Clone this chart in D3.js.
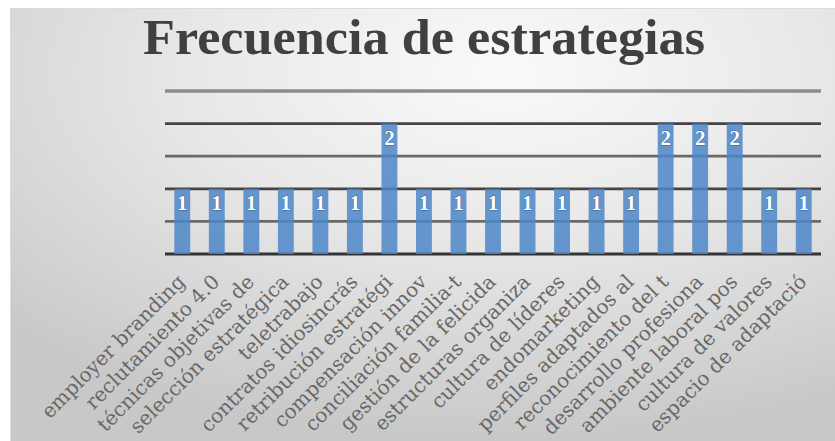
<!DOCTYPE html>
<html><head><meta charset="utf-8">
<script src="https://cdn.jsdelivr.net/npm/d3@7"></script>
<style>html,body{margin:0;padding:0;background:#fff;}svg{display:block;}</style>
</head><body>
<svg id="chart" width="835" height="441"></svg>
<script>
const title = "Frecuencia de estrategias";
const categories = [
  "employer branding","reclutamiento 4.0","técnicas objetivas de","selección estratégica",
  "teletrabajo","contratos idiosincrás","retribución estratégi","compensación innov",
  "conciliación familia-t","gestión de la felicida","estructuras organiza","cultura de líderes",
  "endomarketing","perfiles adaptados al","reconocimiento del t","desarrollo profesiona",
  "ambiente laboral pos","cultura de valores","espacio de adaptació"
];
const values = [1,1,1,1,1,1,2,1,1,1,1,1,1,1,2,2,2,1,1];
const gridTicks = [0,0.5,1,1.5,2,2.5];

const svg = d3.select("#chart");
const W = 835, H = 441;
const defs = svg.append("defs");
const rg = defs.append("radialGradient").attr("id","bg")
  .attr("cx","60%").attr("cy","15%").attr("r","85%").attr("fx","60%").attr("fy","15%");
rg.append("stop").attr("offset","0%").attr("stop-color","#fafafa");
rg.append("stop").attr("offset","45%").attr("stop-color","#e8e8e8");
rg.append("stop").attr("offset","100%").attr("stop-color","#c8c8c8");

svg.append("rect").attr("x",10).attr("y",8).attr("width",W-10).attr("height",H-8)
  .attr("fill","url(#bg)");
svg.append("path").attr("d",`M10.5,${H} V8.5 H${W}`).attr("fill","none")
  .attr("stroke","#dcdcdc").attr("stroke-width",1);

const m = {left:165, right:821, top:91, bottom:254};
const x = d3.scaleBand().domain(categories).range([m.left, m.right]).paddingInner(0.54).paddingOuter(0.27);
const y = d3.scaleLinear().domain([0,2.5]).range([m.bottom, m.top]);

// title
svg.append("text").attr("x",143).attr("y",54)
  .attr("font-family","'Liberation Serif','DejaVu Serif',serif").attr("font-weight","bold")
  .attr("font-size",51).attr("fill","#404040")
  .attr("textLength",562).attr("lengthAdjust","spacingAndGlyphs")
  .text(title);

// gridlines
const gcol = t => t===2.5 ? "#8c8c8c" : (t===0 ? "#333" : (t%1===0 ? "#444" : "#6a6a6a"));
svg.append("g").selectAll("line").data(gridTicks).join("line")
  .attr("x1",m.left).attr("x2",m.right)
  .attr("y1",d=>y(d)).attr("y2",d=>y(d))
  .attr("stroke",gcol).attr("stroke-width",d=>d===2.5?3.5:2.8);

// bars
svg.append("g").selectAll("rect").data(values).join("rect")
  .attr("x",(d,i)=>x(categories[i]))
  .attr("width",x.bandwidth())
  .attr("y",d=>y(d)).attr("height",d=>y(0)-y(d))
  .attr("fill","#4d86c8").attr("fill-opacity",0.85);

// data labels
svg.append("g").selectAll("text").data(values).join("text")
  .attr("x",(d,i)=>x(categories[i])+x.bandwidth()/2)
  .attr("y",d=>y(d)+21)
  .attr("text-anchor","middle")
  .attr("font-family","'Liberation Serif',serif").attr("font-weight","bold")
  .attr("font-size",21).attr("fill","#fff")
  .attr("stroke","#2f5f95").attr("stroke-width",0.8).attr("paint-order","stroke")
  .text(d=>d);

// category labels
svg.append("g").selectAll("text").data(categories).join("text")
  .attr("transform",d=>`translate(${x(d)+x.bandwidth()/2+4},${m.bottom+29}) rotate(-45)`)
  .attr("text-anchor","end")
  .attr("font-family","'DejaVu Serif',serif")
  .attr("font-size",20).attr("fill","#686868")
  .text(d=>d);
</script>
</body></html>
